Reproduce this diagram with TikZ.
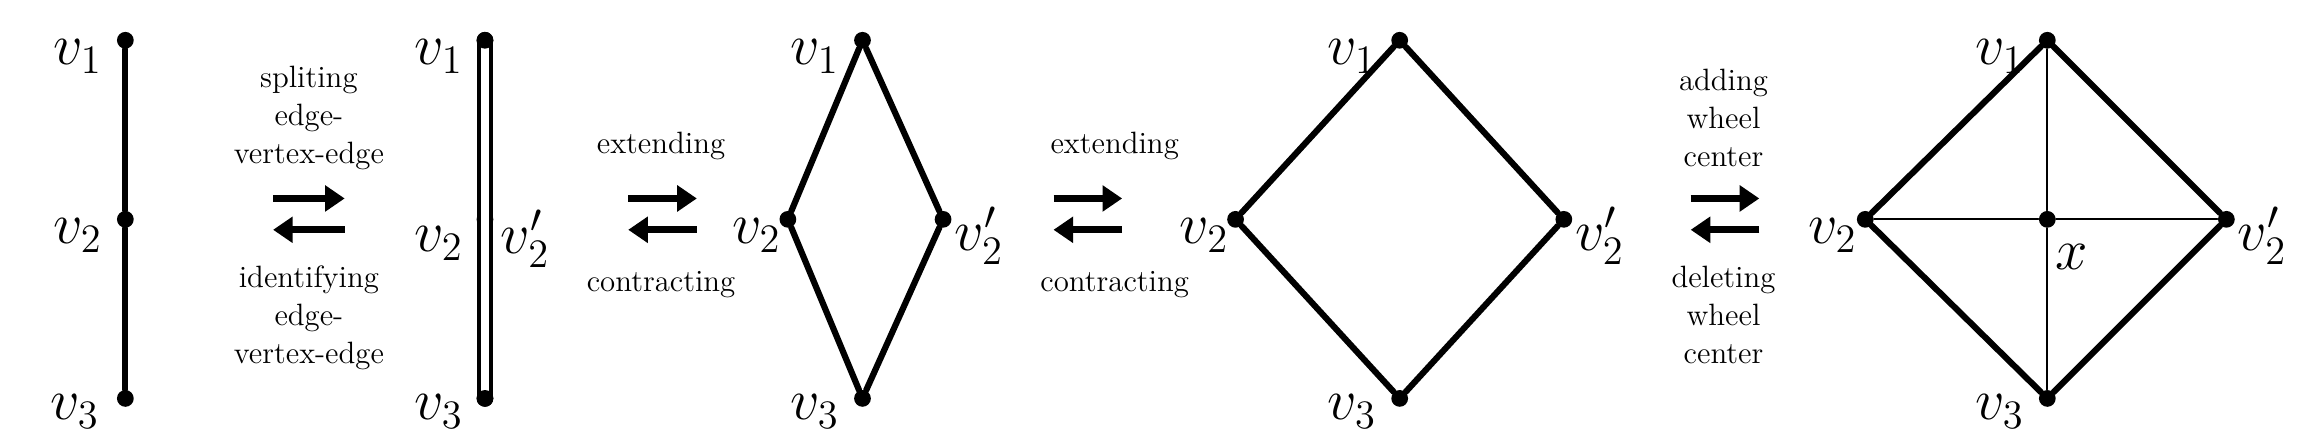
\documentclass[tikz,border=0pt]{standalone}
\usepackage{amsmath}
\usetikzlibrary{arrows.meta}
\tikzset{
  vtx/.style={circle,fill=black,inner sep=0pt,minimum size=0.21cm},
  lbl/.style={font=\fontsize{21}{24}\selectfont,inner sep=1pt},
  thick edge/.style={line width=2.2pt},
  thin edge/.style={line width=0.8pt},
  swap/.style={-{Triangle[length=7pt,width=9pt]},line width=2.6pt,line cap=butt},
  txt/.style={font=\fontsize{11}{13.5}\selectfont,align=center,inner sep=0pt}
}
\begin{document}
\begin{tikzpicture}[line cap=round,line join=round,x=0.0187cm,y=-0.0187cm]
\useasboundingbox (0,0) rectangle (1540,295);
% path
\node[vtx] (a1) at (84,27) {};
\node[vtx] (a2) at (84,147) {};
\node[vtx] (a3) at (84,267) {};
\draw[thick edge] (a1)--(a2)--(a3);
\node[lbl] at (52,38) {$v_1$};
\node[lbl] at (52,158) {$v_2$};
\node[lbl] at (50,276) {$v_3$};
% split path
\node[vtx] (b1) at (325,27) {};
\node[vtx] (b2) at (325,147) {};
\node[vtx] (b3) at (325,267) {};
\draw[double=white,double distance=3pt,line width=1.3pt] (b1.center)--(b3.center);
\node[vtx] at (b1) {};
\node[vtx] at (b3) {};
\node[lbl] at (294,38) {$v_1$};
\node[lbl] at (294,163) {$v_2$};
\node[lbl] at (352,160) {$v_2'$};
\node[lbl] at (294,276) {$v_3$};
% first 4-cycle
\node[vtx] (c1) at (578,27) {};
\node[vtx] (c2) at (528,147) {};
\node[vtx] (c4) at (632,147) {};
\node[vtx] (c3) at (578,267) {};
\draw[thick edge] (c1)--(c2)--(c3)--(c4)--(c1);
\node[lbl] at (546,38) {$v_1$};
\node[lbl] at (507,158) {$v_2$};
\node[lbl] at (656,158) {$v_2'$};
\node[lbl] at (546,276) {$v_3$};
% square
\node[vtx] (d1) at (938,27) {};
\node[vtx] (d2) at (828,147) {};
\node[vtx] (d4) at (1048,147) {};
\node[vtx] (d3) at (938,267) {};
\draw[thick edge] (d1)--(d2)--(d3)--(d4)--(d1);
\node[lbl] at (906,38) {$v_1$};
\node[lbl] at (807,158) {$v_2$};
\node[lbl] at (1072,158) {$v_2'$};
\node[lbl] at (906,276) {$v_3$};
% wheel
\node[vtx] (e1) at (1372,27) {};
\node[vtx] (e2) at (1250,147) {};
\node[vtx] (ex) at (1372,147) {};
\node[vtx] (e4) at (1492,147) {};
\node[vtx] (e3) at (1372,267) {};
\draw[thick edge] (e1)--(e2)--(e3)--(e4)--(e1);
\draw[thin edge] (e1)--(ex)--(e3) (e2)--(ex)--(e4);
\node[lbl] at (1340,38) {$v_1$};
\node[lbl] at (1228,158) {$v_2$};
\node[lbl] at (1516,158) {$v_2'$};
\node[lbl] at (1340,276) {$v_3$};
\node[lbl] at (1388,172) {$x$};
% operations
\node[txt,anchor=south] (t1) at (207,114) {spliting\\edge-\\vertex-edge};
\node[txt,anchor=north] (u1) at (207,178) {identifying\\edge-\\vertex-edge};
\draw[swap] (183,133)--(231,133);
\draw[swap] (231,154)--(183,154);
\node[txt] (t2) at (443,98) {extending};
\node[txt] (u2) at (443,191) {contracting};
\draw[swap] (421,133)--(467,133);
\draw[swap] (467,154)--(421,154);
\node[txt] (t3) at (747,98) {extending};
\node[txt] (u3) at (747,191) {contracting};
\draw[swap] (706,133)--(752,133);
\draw[swap] (752,154)--(706,154);
\node[txt,anchor=south] (t4) at (1155,112) {adding\\wheel\\center};
\node[txt,anchor=north] (u4) at (1155,178) {deleting\\wheel\\center};
\draw[swap] (1133,133)--(1179,133);
\draw[swap] (1179,154)--(1133,154);
\end{tikzpicture}
\end{document}
